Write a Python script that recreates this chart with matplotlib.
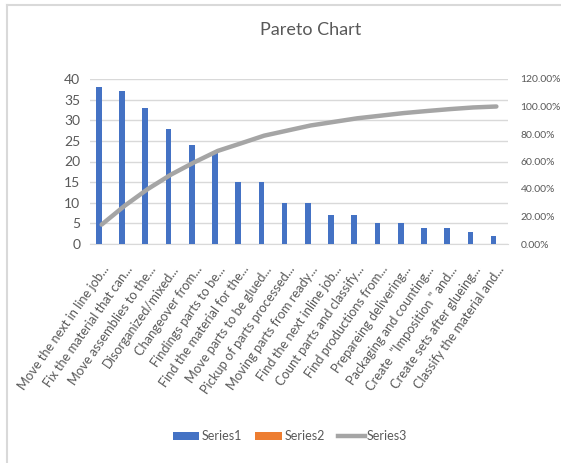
import matplotlib
matplotlib.use("Agg")
import matplotlib.pyplot as plt
from matplotlib.lines import Line2D
from matplotlib.patches import Patch
import numpy as np

categories = [
    "Move the next in line job...",
    "Fix the material that can...",
    "Move assemblies to the...",
    "Disorganized/mixed...",
    "Changeover from...",
    "Findings parts to be...",
    "Find the material for the...",
    "Move parts to be glued...",
    "Pickup of parts processed...",
    "Moving parts from ready...",
    "Find the next inline job...",
    "Count parts and classify...",
    "Find productions from...",
    "Prepareing delivering...",
    "Packaging and counting...",
    "Create  \"Imposition \" and...",
    "Create sets after glueing...",
    "Classify the material and...",
]
series1 = [38, 37, 33, 28, 24, 22, 15, 15, 10, 10, 7, 7, 5, 5, 4, 4, 3, 2]
series3 = [0.141, 0.279, 0.401, 0.506, 0.595, 0.677, 0.732, 0.788, 0.825,
           0.862, 0.888, 0.914, 0.933, 0.952, 0.967, 0.981, 0.993, 1.0]
left_ticks = [0, 5, 10, 15, 20, 25, 30, 35, 40]
right_ticks = [0, 0.2, 0.4, 0.6, 0.8, 1.0, 1.2]

plt.rcParams['font.family'] = ['Lato', 'DejaVu Sans']
txt = '#595959'
grid = '#D9D9D9'

fig = plt.figure(figsize=(5.61, 4.63), dpi=100)
ax = fig.add_axes([90/561, 1-244/463, 418/561, 165/463])
x = np.arange(len(categories))
w = 0.24
ax.bar(x - w/2, series1, width=w, color='#4472C4', zorder=3)
ax.set_xlim(-0.5, len(categories) - 0.5)
ax.set_ylim(0, 40)
ax.set_yticks(left_ticks)
ax.set_yticklabels([str(v) for v in left_ticks])
ax.yaxis.grid(True, color=grid, linewidth=1, zorder=0)
ax.set_axisbelow(True)
for s in ['top', 'right', 'left']:
    ax.spines[s].set_visible(False)
ax.spines['bottom'].set_color(grid)
ax.tick_params(axis='both', length=0, colors=txt, labelsize=10)
ax.tick_params(axis='y', pad=7)
ax.set_xticks(x)
ax.set_xticklabels(categories, rotation=55, ha='right', va='top',
                   rotation_mode='anchor', fontsize=9.3, color=txt)
ax.tick_params(axis='x', pad=14)

ax2 = ax.twinx()
ax2.plot(x, series3, color='#A5A5A5', linewidth=3.2, solid_capstyle='round', zorder=4)
ax2.set_ylim(0, 1.2)
ax2.set_yticks(right_ticks)
ax2.set_yticklabels([f"{v*100:.2f}%" for v in right_ticks])
ax2.tick_params(axis='y', length=0, colors=txt, labelsize=7.5, pad=9)
for s in ['top', 'right', 'left', 'bottom']:
    ax2.spines[s].set_visible(False)

fig.text(0.553, 1-30/463, "Pareto Chart", ha='center', va='center',
         fontsize=13, color=txt)

handles = [Patch(facecolor='#4472C4'), Patch(facecolor='#ED7D31'),
           Line2D([0], [0], color='#A5A5A5', linewidth=3.2)]
leg = fig.legend(handles, ['Series1', 'Series2', 'Series3'], loc='center',
                 bbox_to_anchor=(290/561, 1-436/463), ncol=3, frameon=False,
                 fontsize=9, handlelength=2.1, handleheight=0.6,
                 columnspacing=1.1, handletextpad=0.2)
for t in leg.get_texts():
    t.set_color(txt)

# chart frame (partially visible)
fig.add_artist(Line2D([7/561, 1], [1-4.5/463, 1-4.5/463], color='#D9D9D9', linewidth=1.5,
                      transform=fig.transFigure))
fig.add_artist(Line2D([7/561, 7/561], [0, 1-4.5/463], color='#D9D9D9', linewidth=1.5,
                      transform=fig.transFigure))

fig.savefig("out.png", dpi=100)
